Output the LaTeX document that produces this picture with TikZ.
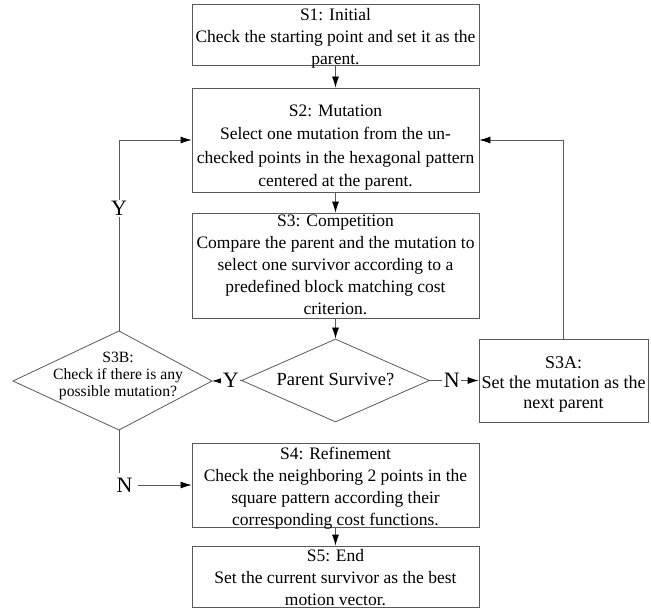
\documentclass[tikz,border=0pt]{standalone}
\usepackage{fontspec}
\setmainfont{Liberation Serif}
\usetikzlibrary{shapes.geometric,arrows.meta}

% centred multi-line text of zero size (so the shape keeps its minimum size),
% lowered by the optional amount
\newcommand\dtext[2][0pt]{\makebox[0pt]{\smash{\raisebox{\dimexpr(\depth-\height)/2-#1\relax}{\begin{tabular}{@{}c@{}}#2\end{tabular}}}}}

\begin{document}
\begin{tikzpicture}[x=1pt,y=-1pt,
  line/.style={draw=black!65, line width=0.8pt},
  box/.style={line, inner sep=0pt, minimum width=287pt,
    font=\fontsize{17.5}{22}\selectfont},
  dia/.style={line, shape=diamond, inner sep=0pt},
  arr/.style={line, -{Latex[length=11pt,width=7pt,color=black]}},
  yn/.style={font=\fontsize{22}{22}\selectfont, fill=white, inner sep=1.5pt}
]
\useasboundingbox (0,0) rectangle (651,609);

\node[box, minimum height=61pt] (s1) at (335.5,34.5)
  {\dtext[4pt]{S1: Initial\\Check the starting point and set it as the\\parent.}};
\node[box, minimum height=104pt, font=\fontsize{17.5}{23.5}\selectfont] (s2) at (335.5,140)
  {\dtext[7pt]{S2: Mutation\\Select one mutation from the un-\\checked points in the hexagonal pattern\\centered at the parent.}};
\node[box, minimum height=105pt] (s3) at (335.5,265.5)
  {\dtext[1pt]{S3: Competition\\Compare the parent and the mutation to\\select one survivor according to a\\predefined block matching cost\\criterion.}};
\node[dia, minimum width=188pt, minimum height=83pt, aspect=2.27] (ps) at (335.5,380.5)
  {\fontsize{18.5}{20}\selectfont\dtext[1pt]{Parent Survive?}};
\node[box, minimum width=169pt, minimum height=83pt, font=\fontsize{18}{20}\selectfont] (s3a) at (563.5,380.5)
  {\dtext[4pt]{S3A:\\Set the mutation as the\\next parent}};
\node[box, minimum height=84pt] (s4) at (335.5,485)
  {\dtext[3pt]{S4: Refinement\\Check the neighboring 2 points in the\\square pattern according their\\corresponding cost functions.}};
\node[box, minimum height=61pt] (s5) at (335.5,576.5)
  {\dtext[2.5pt]{S5: End\\Set the current survivor as the best\\motion vector.}};

% S3B decision: a slightly lopsided diamond drawn from its four corners
\coordinate (s3bW) at (13,381);
\coordinate (s3bN) at (119,331);
\coordinate (s3bE) at (212,381);
\coordinate (s3bS) at (119,430);
\draw[line] (s3bW) -- (s3bN) -- (s3bE) -- (s3bS) -- cycle;
\node[align=center, inner sep=0pt, font=\fontsize{15.7}{16.7}\selectfont] (s3b) at (118,376)
  {S3B:\\Check if there is any\\possible mutation?};

% main flow
\draw[arr] (s1) -- (s2);
\draw[arr] (s2) -- (s3);
\draw[arr] (s3) -- (ps);
\draw[arr] (s4) -- (s5);

% decision branches
\draw[arr] (ps.west) -- node[yn, pos=0.35] (ylab) {Y} (s3bE);
\draw[arr] (ps.east) -- node[yn, pos=0.45] (nlab) {N} (s3a.west);
\draw[arr] (s3a.north) |- (s2.east);
\draw[arr] (s3bN) |- node[yn, pos=0.32] (ylab2) {Y} (s2.west);
\draw[line] (s3bS) -- ++(0,43) coordinate (nbend);
\node[font=\fontsize{22}{22}\selectfont, inner sep=0pt] (nlab2) at (124.5,485) {N};
\draw[arr] (nlab2.east) ++(5,0) coordinate (nstart) -- (s4.west);
\end{tikzpicture}
\end{document}
